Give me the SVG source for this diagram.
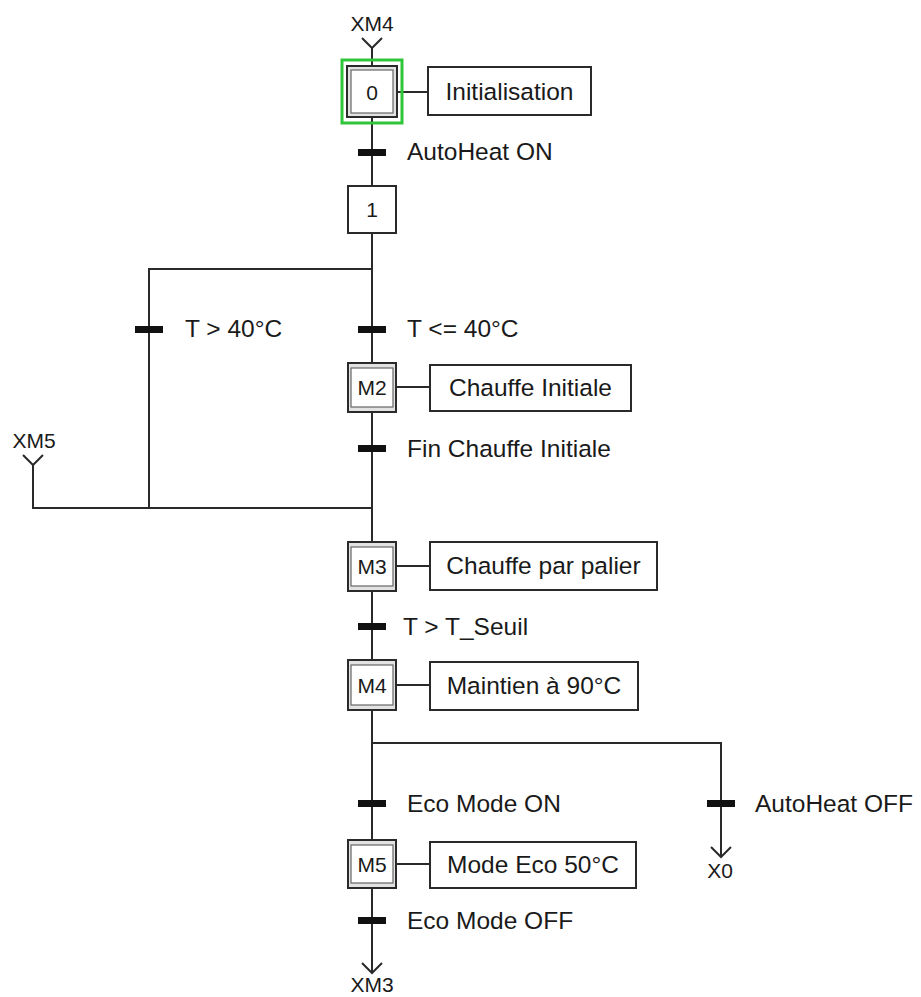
<svg xmlns="http://www.w3.org/2000/svg" width="921" height="997" viewBox="0 0 921 997">
<style>
  .ln { stroke:#2a2a2a; stroke-width:2; fill:none; }
  .bar { fill:#111; }
  .step { fill:#fff; stroke:#2a2a2a; stroke-width:2; }
  .mout { fill:#e2e2e2; stroke:#2a2a2a; stroke-width:2; }
  .min { fill:#fff; stroke:#666; stroke-width:1.2; }
  .lbl { fill:#fff; stroke:#2a2a2a; stroke-width:2; }
  .t { font-family:"Liberation Sans", Arial, sans-serif; font-size:24.5px; fill:#1a1a1a; }
  .c { text-anchor:middle; }
  .s { font-family:"Liberation Sans", Arial, sans-serif; font-size:21px; fill:#1a1a1a; text-anchor:middle; }
</style>
<rect width="921" height="997" fill="#fff"/>
<g id="connectors">
  <path class="ln" d="M372 48 V66 M372 117 V186 M372 233 V363 M372 412 V542 M372 591 V660 M372 710 V840 M372 888 V973"/>
  <path class="ln" d="M362 38 L372 48 L382 38"/>
  <path class="ln" d="M372 269 H149 V508"/>
  <path class="ln" d="M33 465 V508 H372"/>
  <path class="ln" d="M23 455 L33 465 L43 455"/>
  <path class="ln" d="M372 743 H721 V857"/>
  <path class="ln" d="M711 847 L721 857 L731 847"/>
  <path class="ln" d="M362 963 L372 973 L382 963"/>
  <path class="ln" d="M397 92 H428 M396 387 H430 M396 566 H430 M396 685 H430 M396 864 H430"/>
  <rect class="bar" x="358" y="149" width="28" height="7"/>
  <rect class="bar" x="135" y="326" width="28" height="7"/>
  <rect class="bar" x="358" y="326" width="28" height="7"/>
  <rect class="bar" x="358" y="445" width="28" height="7"/>
  <rect class="bar" x="358" y="623" width="28" height="7"/>
  <rect class="bar" x="358" y="800" width="28" height="7"/>
  <rect class="bar" x="707" y="800" width="28" height="7"/>
  <rect class="bar" x="358" y="917" width="28" height="7"/>
  <text class="t" x="407" y="160">AutoHeat ON</text>
  <text class="t" x="185" y="337">T &gt; 40°C</text>
  <text class="t" x="407" y="337">T &lt;= 40°C</text>
  <text class="t" x="407" y="457">Fin Chauffe Initiale</text>
  <text class="t" x="403" y="635">T &gt; T_Seuil</text>
  <text class="t" x="407" y="812">Eco Mode ON</text>
  <text class="t" x="755" y="812">AutoHeat OFF</text>
  <text class="t" x="407" y="929">Eco Mode OFF</text>
  <text class="s" x="372" y="31">XM4</text>
  <text class="s" x="34" y="448">XM5</text>
  <text class="s" x="720" y="878">X0</text>
  <text class="s" x="372" y="992">XM3</text>
</g>
<g id="step0">
  <rect x="342" y="60" width="60" height="63" fill="none" stroke="#2fc63a" stroke-width="3"/>
  <rect class="mout" x="347" y="66" width="50" height="51"/>
  <rect class="min" x="351" y="70" width="42" height="43"/>
  <text class="s" x="372" y="100">0</text>
</g>
<g id="action0">
  <rect class="lbl" x="428" y="67" width="163" height="48"/>
  <text class="t c" x="509.5" y="100">Initialisation</text>
</g>
<g id="step1">
  <rect class="step" x="348" y="186" width="48" height="47"/>
  <text class="s" x="372" y="217">1</text>
</g>
<g id="stepM2">
  <rect class="mout" x="348" y="363" width="48" height="49"/>
  <rect class="min" x="351" y="368" width="42" height="39"/>
  <text class="s" x="372" y="395">M2</text>
</g>
<g id="actionM2">
  <rect class="lbl" x="430" y="365" width="201" height="46"/>
  <text class="t c" x="530.5" y="396">Chauffe Initiale</text>
</g>
<g id="stepM3">
  <rect class="mout" x="348" y="542" width="48" height="49"/>
  <rect class="min" x="351" y="547" width="42" height="39"/>
  <text class="s" x="372" y="574">M3</text>
</g>
<g id="actionM3">
  <rect class="lbl" x="430" y="542" width="227" height="48"/>
  <text class="t c" x="543.5" y="574">Chauffe par palier</text>
</g>
<g id="stepM4">
  <rect class="mout" x="348" y="660" width="48" height="50"/>
  <rect class="min" x="351" y="665" width="42" height="40"/>
  <text class="s" x="372" y="693">M4</text>
</g>
<g id="actionM4">
  <rect class="lbl" x="430" y="662" width="208" height="48"/>
  <text class="t c" x="534" y="694">Maintien à 90°C</text>
</g>
<g id="stepM5">
  <rect class="mout" x="348" y="840" width="48" height="48"/>
  <rect class="min" x="351" y="845" width="42" height="38"/>
  <text class="s" x="372" y="872">M5</text>
</g>
<g id="actionM5">
  <rect class="lbl" x="430" y="842" width="206" height="46"/>
  <text class="t c" x="533" y="873">Mode Eco 50°C</text>
</g>
</svg>
